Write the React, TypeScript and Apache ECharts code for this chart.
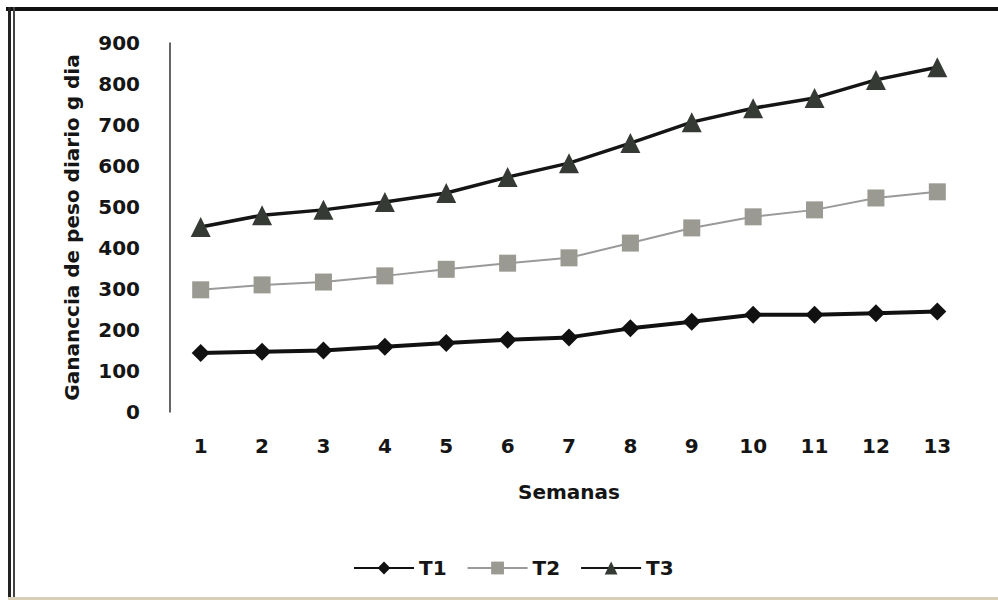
import React, { useEffect, useRef } from "react";
import * as echarts from "echarts";

const weeks = ["1", "2", "3", "4", "5", "6", "7", "8", "9", "10", "11", "12", "13"];
const t1 = [144, 147, 150, 159, 168, 176, 182, 204, 220, 237, 237, 241, 245];
const t2 = [298, 310, 317, 332, 348, 363, 376, 412, 449, 476, 493, 522, 537];
const t3 = [451, 480, 493, 512, 534, 573, 607, 656, 707, 741, 766, 810, 841];

const FONT = "'DejaVu Sans', sans-serif";

export default function App() {
  const ref = useRef<HTMLDivElement>(null);
  useEffect(() => {
    if (!ref.current) return;
    const chart = echarts.init(ref.current, null, { renderer: "svg" });
    const txt = { fontFamily: FONT, fontWeight: "bold", fontSize: 20, color: "#151515" };
    chart.setOption({
      animation: false,
      backgroundColor: "#ffffff",
      textStyle: { fontFamily: FONT },
      graphic: [
        { type: "rect", shape: { x: 6, y: 7, width: 992, height: 4 }, style: { fill: "#111" } },
        { type: "rect", shape: { x: 8, y: 7, width: 3, height: 593 }, style: { fill: "#222" } },
        { type: "rect", shape: { x: 13, y: 7, width: 2, height: 593 }, style: { fill: "#444" } },
        { type: "rect", shape: { x: 8, y: 597, width: 990, height: 3 }, style: { fill: "#d8cfb8" } },
      ],
      grid: { left: 170, right: 30, top: 43, bottom: 188, containLabel: false },
      legend: {
        left: 348,
        top: 553,
        itemWidth: 60,
        itemHeight: 16,
        itemGap: 20,
        textStyle: { ...txt, fontSize: 20 },
        data: ["T1", "T2", "T3"],
      },
      xAxis: {
        type: "category",
        data: weeks,
        boundaryGap: true,
        axisLine: { show: false },
        axisTick: { show: false },
        axisLabel: { margin: 24, ...txt },
        name: "Semanas",
        nameLocation: "middle",
        nameGap: 70,
        nameTextStyle: txt,
      },
      yAxis: {
        type: "value",
        min: 0,
        max: 900,
        interval: 100,
        splitLine: { show: false },
        axisLine: { show: true, lineStyle: { color: "#333", width: 1.5 } },
        axisTick: { show: false },
        axisLabel: { margin: 30, ...txt },
        name: "Gananccia de peso diario g dia",
        nameLocation: "middle",
        nameGap: 88,
        nameTextStyle: txt,
      },
      series: [
        {
          name: "T1",
          type: "line",
          data: t1,
          symbol: "diamond",
          symbolSize: 18,
          lineStyle: { color: "#111", width: 4 },
          itemStyle: { color: "#111" },
        },
        {
          name: "T2",
          type: "line",
          data: t2,
          symbol: "rect",
          symbolSize: 17,
          lineStyle: { color: "#9a9a9a", width: 2 },
          itemStyle: { color: "#9a9a92" },
        },
        {
          name: "T3",
          type: "line",
          data: t3,
          symbol: "triangle",
          symbolSize: 20,
          lineStyle: { color: "#151515", width: 3.5 },
          itemStyle: { color: "#353a35" },
        },
      ],
    });
    return () => chart.dispose();
  }, []);
  return <div ref={ref} style={{ width: 998, height: 600, position: "absolute", left: 0, top: 0 }} />;
}
